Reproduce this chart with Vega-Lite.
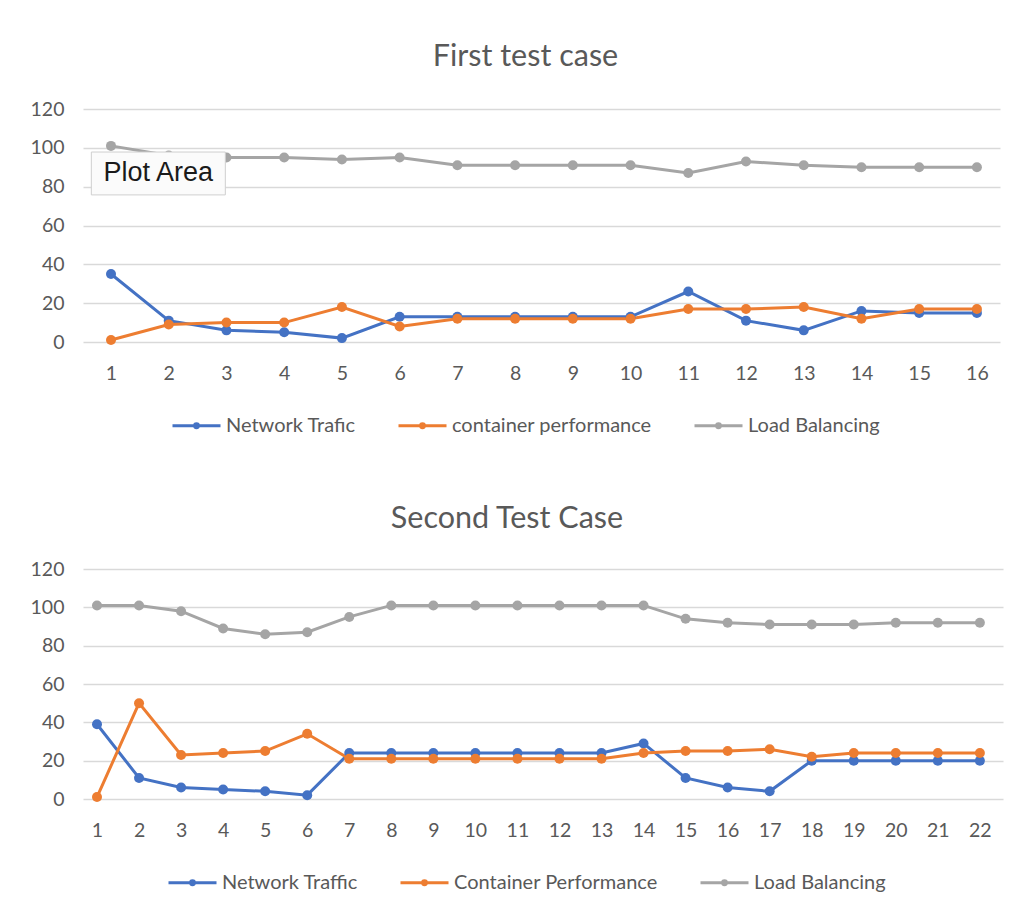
{
  "$schema": "https://vega.github.io/schema/vega-lite/v6.json",
  "background": "white",
  "padding": {"left": 30, "top": 41, "right": 15, "bottom": 5},
  "spacing": 67,
  "config": {
    "font": "Lato",
    "view": {"stroke": null},
    "axisX": {"grid": false, "domain": false, "ticks": false, "labelFontSize": 19.5, "labelColor": "#595959", "labelPadding": 22, "title": null, "format": "d"},
    "axisY": {"values": [0, 20, 40, 60, 80, 100, 120], "domain": false, "ticks": false, "gridColor": "#d9d9d9", "gridWidth": 1.5, "labelFontSize": 19.5, "labelColor": "#595959", "labelPadding": 19, "minExtent": 50, "maxExtent": 50, "title": null},
    "legend": {"orient": "none", "direction": "horizontal", "columns": 3, "title": null, "symbolType": "M-1,0L1,0M-0.08,0A0.08,0.08 0 1,0 0.08,0A0.08,0.08 0 1,0 -0.08,0", "symbolSize": 2304, "symbolStrokeWidth": 3, "labelFontSize": 20, "labelLimit": 0, "labelColor": "#595959", "columnPadding": 36, "labelOffset": 4},
    "title": {"fontSize": 30.5, "fontWeight": "normal", "color": "#595959", "frame": "group", "anchor": "middle"}
  },
  "datasets": {
    "first": [
      {"x": 1, "y": 35, "series": "Network Trafic"}, {"x": 2, "y": 11, "series": "Network Trafic"}, {"x": 3, "y": 6, "series": "Network Trafic"}, {"x": 4, "y": 5, "series": "Network Trafic"}, {"x": 5, "y": 2, "series": "Network Trafic"}, {"x": 6, "y": 13, "series": "Network Trafic"}, {"x": 7, "y": 13, "series": "Network Trafic"}, {"x": 8, "y": 13, "series": "Network Trafic"}, {"x": 9, "y": 13, "series": "Network Trafic"}, {"x": 10, "y": 13, "series": "Network Trafic"}, {"x": 11, "y": 26, "series": "Network Trafic"}, {"x": 12, "y": 11, "series": "Network Trafic"}, {"x": 13, "y": 6, "series": "Network Trafic"}, {"x": 14, "y": 16, "series": "Network Trafic"}, {"x": 15, "y": 15, "series": "Network Trafic"}, {"x": 16, "y": 15, "series": "Network Trafic"},
      {"x": 1, "y": 1, "series": "container performance"}, {"x": 2, "y": 9, "series": "container performance"}, {"x": 3, "y": 10, "series": "container performance"}, {"x": 4, "y": 10, "series": "container performance"}, {"x": 5, "y": 18, "series": "container performance"}, {"x": 6, "y": 8, "series": "container performance"}, {"x": 7, "y": 12, "series": "container performance"}, {"x": 8, "y": 12, "series": "container performance"}, {"x": 9, "y": 12, "series": "container performance"}, {"x": 10, "y": 12, "series": "container performance"}, {"x": 11, "y": 17, "series": "container performance"}, {"x": 12, "y": 17, "series": "container performance"}, {"x": 13, "y": 18, "series": "container performance"}, {"x": 14, "y": 12, "series": "container performance"}, {"x": 15, "y": 17, "series": "container performance"}, {"x": 16, "y": 17, "series": "container performance"},
      {"x": 1, "y": 101, "series": "Load Balancing"}, {"x": 2, "y": 96, "series": "Load Balancing"}, {"x": 3, "y": 95, "series": "Load Balancing"}, {"x": 4, "y": 95, "series": "Load Balancing"}, {"x": 5, "y": 94, "series": "Load Balancing"}, {"x": 6, "y": 95, "series": "Load Balancing"}, {"x": 7, "y": 91, "series": "Load Balancing"}, {"x": 8, "y": 91, "series": "Load Balancing"}, {"x": 9, "y": 91, "series": "Load Balancing"}, {"x": 10, "y": 91, "series": "Load Balancing"}, {"x": 11, "y": 87, "series": "Load Balancing"}, {"x": 12, "y": 93, "series": "Load Balancing"}, {"x": 13, "y": 91, "series": "Load Balancing"}, {"x": 14, "y": 90, "series": "Load Balancing"}, {"x": 15, "y": 90, "series": "Load Balancing"}, {"x": 16, "y": 90, "series": "Load Balancing"}
    ],
    "second": [
      {"x": 1, "y": 39, "series": "Network Traffic"}, {"x": 2, "y": 11, "series": "Network Traffic"}, {"x": 3, "y": 6, "series": "Network Traffic"}, {"x": 4, "y": 5, "series": "Network Traffic"}, {"x": 5, "y": 4, "series": "Network Traffic"}, {"x": 6, "y": 2, "series": "Network Traffic"}, {"x": 7, "y": 24, "series": "Network Traffic"}, {"x": 8, "y": 24, "series": "Network Traffic"}, {"x": 9, "y": 24, "series": "Network Traffic"}, {"x": 10, "y": 24, "series": "Network Traffic"}, {"x": 11, "y": 24, "series": "Network Traffic"}, {"x": 12, "y": 24, "series": "Network Traffic"}, {"x": 13, "y": 24, "series": "Network Traffic"}, {"x": 14, "y": 29, "series": "Network Traffic"}, {"x": 15, "y": 11, "series": "Network Traffic"}, {"x": 16, "y": 6, "series": "Network Traffic"}, {"x": 17, "y": 4, "series": "Network Traffic"}, {"x": 18, "y": 20, "series": "Network Traffic"}, {"x": 19, "y": 20, "series": "Network Traffic"}, {"x": 20, "y": 20, "series": "Network Traffic"}, {"x": 21, "y": 20, "series": "Network Traffic"}, {"x": 22, "y": 20, "series": "Network Traffic"},
      {"x": 1, "y": 1, "series": "Container Performance"}, {"x": 2, "y": 50, "series": "Container Performance"}, {"x": 3, "y": 23, "series": "Container Performance"}, {"x": 4, "y": 24, "series": "Container Performance"}, {"x": 5, "y": 25, "series": "Container Performance"}, {"x": 6, "y": 34, "series": "Container Performance"}, {"x": 7, "y": 21, "series": "Container Performance"}, {"x": 8, "y": 21, "series": "Container Performance"}, {"x": 9, "y": 21, "series": "Container Performance"}, {"x": 10, "y": 21, "series": "Container Performance"}, {"x": 11, "y": 21, "series": "Container Performance"}, {"x": 12, "y": 21, "series": "Container Performance"}, {"x": 13, "y": 21, "series": "Container Performance"}, {"x": 14, "y": 24, "series": "Container Performance"}, {"x": 15, "y": 25, "series": "Container Performance"}, {"x": 16, "y": 25, "series": "Container Performance"}, {"x": 17, "y": 26, "series": "Container Performance"}, {"x": 18, "y": 22, "series": "Container Performance"}, {"x": 19, "y": 24, "series": "Container Performance"}, {"x": 20, "y": 24, "series": "Container Performance"}, {"x": 21, "y": 24, "series": "Container Performance"}, {"x": 22, "y": 24, "series": "Container Performance"},
      {"x": 1, "y": 101, "series": "Load Balancing"}, {"x": 2, "y": 101, "series": "Load Balancing"}, {"x": 3, "y": 98, "series": "Load Balancing"}, {"x": 4, "y": 89, "series": "Load Balancing"}, {"x": 5, "y": 86, "series": "Load Balancing"}, {"x": 6, "y": 87, "series": "Load Balancing"}, {"x": 7, "y": 95, "series": "Load Balancing"}, {"x": 8, "y": 101, "series": "Load Balancing"}, {"x": 9, "y": 101, "series": "Load Balancing"}, {"x": 10, "y": 101, "series": "Load Balancing"}, {"x": 11, "y": 101, "series": "Load Balancing"}, {"x": 12, "y": 101, "series": "Load Balancing"}, {"x": 13, "y": 101, "series": "Load Balancing"}, {"x": 14, "y": 101, "series": "Load Balancing"}, {"x": 15, "y": 94, "series": "Load Balancing"}, {"x": 16, "y": 92, "series": "Load Balancing"}, {"x": 17, "y": 91, "series": "Load Balancing"}, {"x": 18, "y": 91, "series": "Load Balancing"}, {"x": 19, "y": 91, "series": "Load Balancing"}, {"x": 20, "y": 92, "series": "Load Balancing"}, {"x": 21, "y": 92, "series": "Load Balancing"}, {"x": 22, "y": 92, "series": "Load Balancing"}
    ],
    "tip": [{"x": 1.82, "y": 86.8, "label": "Plot Area"}]
  },
  "resolve": {"scale": {"color": "independent", "x": "independent", "y": "independent"}, "legend": {"color": "independent"}},
  "vconcat": [
    {
      "title": {"text": "First test case", "offset": 27, "dx": -16},
      "width": 917,
      "height": 233,
      "layer": [
        {
          "data": {"name": "first"},
          "mark": {"type": "line", "strokeWidth": 3, "point": {"size": 100, "filled": true, "opacity": 1}},
          "encoding": {
            "x": {"field": "x", "type": "quantitative", "scale": {"domain": [0.515, 16.4], "nice": false, "zero": false}, "axis": {"values": [1,2,3,4,5,6,7,8,9,10,11,12,13,14,15,16]}},
            "y": {"field": "y", "type": "quantitative", "scale": {"domain": [0, 120], "nice": false}},
            "color": {"field": "series", "type": "nominal", "sort": ["Network Trafic", "container performance", "Load Balancing"], "scale": {"domain": ["Network Trafic", "container performance", "Load Balancing"], "range": ["#4472C4", "#ED7D31", "#A5A5A5"]}, "legend": {"legendX": 88, "legendY": 291}}
          }
        },
        {
          "data": {"name": "tip"},
          "mark": {"type": "point", "shape": "M-1,-0.32H1V0.32H-1Z", "size": 17956, "filled": true, "fill": "#fbfbfb", "stroke": "#cfcfcf", "strokeWidth": 1, "opacity": 1},
          "encoding": {
            "x": {"field": "x", "type": "quantitative"},
            "y": {"field": "y", "type": "quantitative"}
          }
        },
        {
          "data": {"name": "tip"},
          "mark": {"type": "text", "font": "Liberation Sans", "fontSize": 27, "color": "#1a1a1a", "align": "center", "baseline": "middle"},
          "encoding": {
            "x": {"field": "x", "type": "quantitative"},
            "y": {"field": "y", "type": "quantitative"},
            "text": {"field": "label"}
          }
        }
      ]
    },
    {
      "title": {"text": "Second Test Case", "offset": 25, "dx": -36},
      "width": 920,
      "height": 230,
      "data": {"name": "second"},
      "mark": {"type": "line", "strokeWidth": 3, "point": {"size": 100, "filled": true, "opacity": 1}},
      "encoding": {
        "x": {"field": "x", "type": "quantitative", "scale": {"domain": [0.667, 22.55], "nice": false, "zero": false}, "axis": {"values": [1,2,3,4,5,6,7,8,9,10,11,12,13,14,15,16,17,18,19,20,21,22]}},
        "y": {"field": "y", "type": "quantitative", "scale": {"domain": [0, 120], "nice": false}},
        "color": {"field": "series", "type": "nominal", "sort": ["Network Traffic", "Container Performance", "Load Balancing"], "scale": {"domain": ["Network Traffic", "Container Performance", "Load Balancing"], "range": ["#4472C4", "#ED7D31", "#A5A5A5"]}, "legend": {"legendX": 84, "legendY": 288}}
      }
    }
  ]
}
